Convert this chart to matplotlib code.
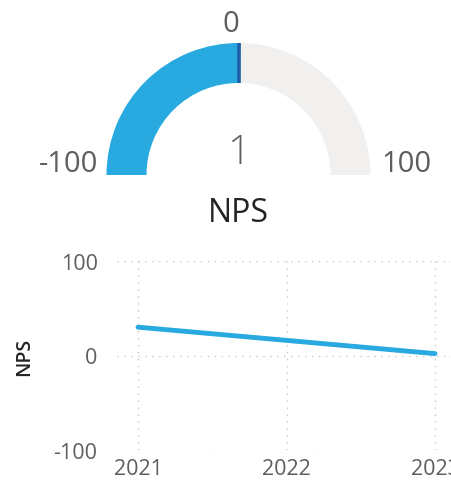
import numpy as np
import matplotlib.pyplot as plt
from matplotlib.patches import Wedge

plt.rcParams['font.family'] = ['Open Sans', 'DejaVu Sans']
plt.rcParams['axes.unicode_minus'] = False

# gauge data
gauge_min = -100
gauge_max = 100
gauge_value = 1
gauge_target = 0
gauge_title = 'NPS'

# line chart data
years = [2021, 2022, 2023]
nps = [30, 16, 2]
y_ticks = [-100, 0, 100]

blue = '#28A9E0'
grey_txt = '#605E5C'

W, H = 451, 485
fig = plt.figure(figsize=(W / 100, H / 100), dpi=100)

# --- gauge, drawn in pixel space (y flipped so up is positive) ---
gax = fig.add_axes([0, 0, 1, 1])
gax.set_xlim(0, W)
gax.set_ylim(0, H)
gax.axis('off')

cx, cy = 238.5, H - 176
r_out, r_in = 132, 92


def to_angle(v):
    return 180 - (v - gauge_min) / (gauge_max - gauge_min) * 180


a_val = to_angle(gauge_value)
gax.add_patch(Wedge((cx, cy), r_out, 0, a_val, width=r_out - r_in,
                    facecolor='#F1F0EF', edgecolor='none'))
gax.add_patch(Wedge((cx, cy), r_out, a_val, 180, width=r_out - r_in,
                    facecolor=blue, edgecolor='none'))
a_t = np.deg2rad(to_angle(gauge_target))
gax.plot([cx + r_in * np.cos(a_t), cx + r_out * np.cos(a_t)],
         [cy + r_in * np.sin(a_t), cy + r_out * np.sin(a_t)],
         color='#1F5FAA', lw=2.6, solid_capstyle='butt')

gax.text(cx - 8, H - 24, str(gauge_target), ha='center', va='center',
         fontsize=21, color=grey_txt)
gax.text(98, H - 164, str(gauge_min), ha='right', va='center',
         fontsize=21, color=grey_txt)
gax.text(381, H - 164, str(gauge_max), ha='left', va='center',
         fontsize=21, color=grey_txt)
gax.text(cx, H - 153, str(gauge_value), ha='center', va='center',
         fontsize=29, color=grey_txt, fontweight='light')
gax.text(cx, H - 214, gauge_title, ha='center', va='center',
         fontsize=23, color='#252423')

# --- line chart ---
px_per_year = 148.5
x0, x1 = 117, 451
ax = fig.add_axes([x0 / W, (H - 451) / H, (x1 - x0) / W, 189 / H])
ax.plot(years, nps, color=blue, lw=3.5, solid_capstyle='round')
ax.set_xlim(2021 - (138 - x0) / px_per_year, 2023 + (x1 - 435) / px_per_year)
ax.set_ylim(-100, 100)
ax.set_xticks(years)
ax.set_yticks(y_ticks)
ax.grid(True, color='#C8C8C8', linestyle=(0, (1, 4)), linewidth=1)
for s in ax.spines.values():
    s.set_visible(False)
ax.tick_params(length=0, labelsize=15.5, colors=grey_txt)
ax.tick_params(axis='y', pad=14)
ax.tick_params(axis='x', pad=6)
ax.set_ylabel('NPS', fontsize=14, color='#252423', fontweight='semibold')
ax.yaxis.set_label_coords((34 - x0) / (x1 - x0), 0.5)
ax.patch.set_alpha(0)

fig.savefig('out.png', dpi=100)
